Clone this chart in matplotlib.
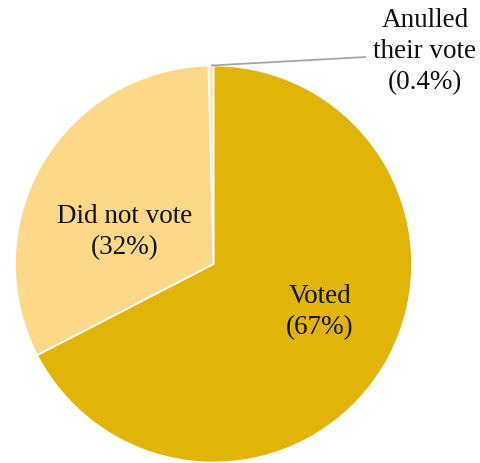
import numpy as np
import matplotlib
matplotlib.use("Agg")
import matplotlib.pyplot as plt

plt.rcParams['font.family'] = ['Liberation Serif', 'DejaVu Serif']

labels = ["Voted", "Did not vote", "Anulled\ntheir vote"]
shares = [67, 32, 0.4]
share_text = ["67%", "32%", "0.4%"]
colors = ["#E1B508", "#FDD888", "#FBE7B5"]

W, H = 481, 464
fig = plt.figure(figsize=(W / 100, H / 100), dpi=100)
ax = fig.add_axes([0, 0, 1, 1])

cx, cy, r = 213.5, H - 265, 198.5
wedges, _ = ax.pie(shares, colors=colors, startangle=90, counterclock=False,
                   center=(cx, cy), radius=r, frame=True,
                   wedgeprops=dict(edgecolor="white", linewidth=1.2))
ax.set_xlim(0, W)
ax.set_ylim(0, H)
ax.set_aspect('equal')
ax.axis('off')

fs = 19.5
ls = 1.32
ax.text(320, H - 312, f"{labels[0]}\n({share_text[0]})", ha='center', va='center',
        fontsize=fs, linespacing=ls, color='#111111')
ax.text(125, H - 232, f"{labels[1]}\n({share_text[1]})", ha='center', va='center',
        fontsize=fs, linespacing=ls, color='#111111')

# leader line from the small wedge to its outside label
w = wedges[2]
mid = np.deg2rad((w.theta1 + w.theta2) / 2)
sx, sy = cx + r * np.cos(mid), cy + r * np.sin(mid)
ax.plot([sx, 366], [sy, H - 58], color='#A6A6A6', lw=1.3, solid_capstyle='butt')
ax.text(425, H - 52, f"{labels[2]}\n({share_text[2]})", ha='center', va='center',
        fontsize=fs, linespacing=ls, color='#111111')

fig.savefig("out.png", dpi=100)
